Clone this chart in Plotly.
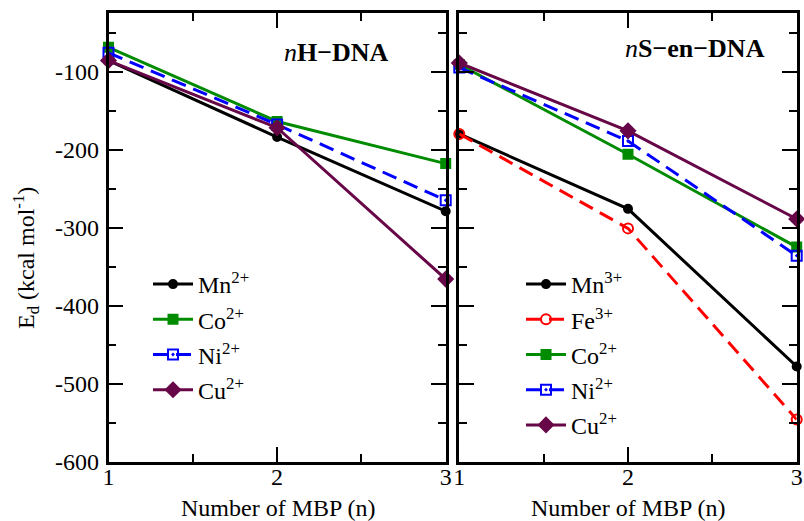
import plotly.graph_objects as go

n_vals = [1, 2, 3]
x_ticktext = ["1", "2", "3"]

# Left panel: nH-DNA
h_mn2 = [-86, -184, -279]
h_co2 = [-69, -164, -218]
h_ni2 = [-76, -168, -265]
h_cu2 = [-86, -172, -366]

# Right panel: nS-en-DNA
s_mn3 = [-180, -276, -478]
s_fe3 = [-180, -301, -546]
s_co2 = [-91, -206, -325]
s_ni2 = [-95, -189, -336]
s_cu2 = [-89, -176, -289]

y_ticks = [-600, -500, -400, -300, -200, -100]
y_ticktext = ["-600", "-500", "-400", "-300", "-200", "-100"]

BLACK = "#000000"
GREEN = "rgb(0,139,0)"
BLUE = "rgb(0,0,255)"
MAROON = "rgb(103,7,72)"
RED = "rgb(255,0,0)"
FONT = "Liberation Serif"

W, H = 804, 521
fig = go.Figure()

def add(x, y, name, color, symbol, size, dash, xa, ya, legend, group):
    fig.add_trace(go.Scatter(
        x=x, y=y, name=name, mode="lines+markers", cliponaxis=False,
        line=dict(color=color, width=3, dash=dash),
        marker=dict(color=color, symbol=symbol, size=size,
                    line=dict(color=color, width=2)),
        xaxis=xa, yaxis=ya, legend=legend, legendgroup=group))

add(n_vals, h_mn2, "Mn<sup>2+</sup>", BLACK, "circle", 8, "solid", "x", "y", "legend", "h1")
add(n_vals, h_co2, "Co<sup>2+</sup>", GREEN, "square", 9, "solid", "x", "y", "legend", "h2")
add(n_vals, h_ni2, "Ni<sup>2+</sup>", BLUE, "square-open-dot", 10, "15px,8px", "x", "y", "legend", "h3")
add(n_vals, h_cu2, "Cu<sup>2+</sup>", MAROON, "diamond", 11, "solid", "x", "y", "legend", "h4")

add(n_vals, s_mn3, "Mn<sup>3+</sup>", BLACK, "circle", 8, "solid", "x2", "y2", "legend2", "s1")
add(n_vals, s_fe3, "Fe<sup>3+</sup>", RED, "circle-open", 10, "15px,8px", "x2", "y2", "legend2", "s2")
add(n_vals, s_co2, "Co<sup>2+</sup>", GREEN, "square", 9, "solid", "x2", "y2", "legend2", "s3")
add(n_vals, s_ni2, "Ni<sup>2+</sup>", BLUE, "square-open-dot", 10, "15px,8px", "x2", "y2", "legend2", "s4")
add(n_vals, s_cu2, "Cu<sup>2+</sup>", MAROON, "diamond", 11, "solid", "x2", "y2", "legend2", "s5")

x0l, x1l = 108.5 / W, 445.7 / W
x0r, x1r = 459.3 / W, 796.7 / W
ytop, ybot = 1 - 13 / H, 1 - 461.7 / H

common_x = dict(range=[1, 3], tickvals=n_vals, ticktext=x_ticktext, ticks="inside",
                ticklen=15, tickwidth=2, ticklabelstandoff=-8, automargin=False,
                tickcolor="black", showline=True, linewidth=2.5, linecolor="black",
                mirror="ticks", showgrid=False, zeroline=False,
                tickfont=dict(family=FONT, size=24, color="black"),
                minor=dict(dtick=0.5, ticks="inside", ticklen=8, tickwidth=2, tickcolor="black"))
common_y = dict(range=[-600, -25], tickvals=y_ticks, ticktext=y_ticktext, ticks="inside",
                ticklen=15, tickwidth=2, ticklabelstandoff=2, automargin=False,
                tickcolor="black", showline=True, linewidth=2.5, linecolor="black",
                mirror="ticks", showgrid=False, zeroline=False,
                tickfont=dict(family=FONT, size=24, color="black"),
                minor=dict(dtick=50, ticks="inside", ticklen=8, tickwidth=2, tickcolor="black"))

legend_common = dict(xanchor="left", yanchor="top", bgcolor="rgba(0,0,0,0)",
                     font=dict(family=FONT, size=24, color="black"), tracegroupgap=1,
                     itemwidth=40)

fig.update_layout(
    width=W, height=H,
    margin=dict(l=0, r=0, t=0, b=0, autoexpand=False),
    paper_bgcolor="white", plot_bgcolor="white",
    font=dict(family=FONT, color="black"),
    xaxis=dict(domain=[x0l, x1l], anchor="y", **common_x),
    yaxis=dict(domain=[ybot, ytop], anchor="x", **common_y),
    xaxis2=dict(domain=[x0r, x1r], anchor="y2", **common_x),
    yaxis2=dict(domain=[ybot, ytop], anchor="x2", showticklabels=False, **common_y),
    legend=dict(x=148 / W, y=1 - 262 / H, **legend_common),
    legend2=dict(x=521 / W, y=1 - 262 / H, **legend_common),
    showlegend=True,
)

fig.add_annotation(text="<i>n</i><b>H\u2212DNA</b>", x=336 / W, y=1 - 52 / H,
                   xref="paper", yref="paper", showarrow=False,
                   xanchor="center", yanchor="middle",
                   font=dict(family=FONT, size=26, color="black"))
fig.add_annotation(text="<i>n</i><b>S\u2212en\u2212DNA</b>", x=695 / W, y=1 - 48 / H,
                   xref="paper", yref="paper", showarrow=False,
                   xanchor="center", yanchor="middle",
                   font=dict(family=FONT, size=26, color="black"))
fig.add_annotation(text="E<sub>d</sub> (kcal mol<sup>-1</sup>)", x=26 / W, y=1 - 258 / H,
                   xref="paper", yref="paper", showarrow=False, textangle=-90,
                   xanchor="center", yanchor="middle",
                   font=dict(family=FONT, size=24, color="black"))
fig.add_annotation(text="Number of MBP (n)", x=(x0l + x1l) / 2 + 1 / W, y=1 - 508 / H,
                   xref="paper", yref="paper", showarrow=False,
                   xanchor="center", yanchor="middle",
                   font=dict(family=FONT, size=24, color="black"))
fig.add_annotation(text="Number of MBP (n)", x=(x0r + x1r) / 2, y=1 - 508 / H,
                   xref="paper", yref="paper", showarrow=False,
                   xanchor="center", yanchor="middle",
                   font=dict(family=FONT, size=24, color="black"))

fig.write_html("out.html")
